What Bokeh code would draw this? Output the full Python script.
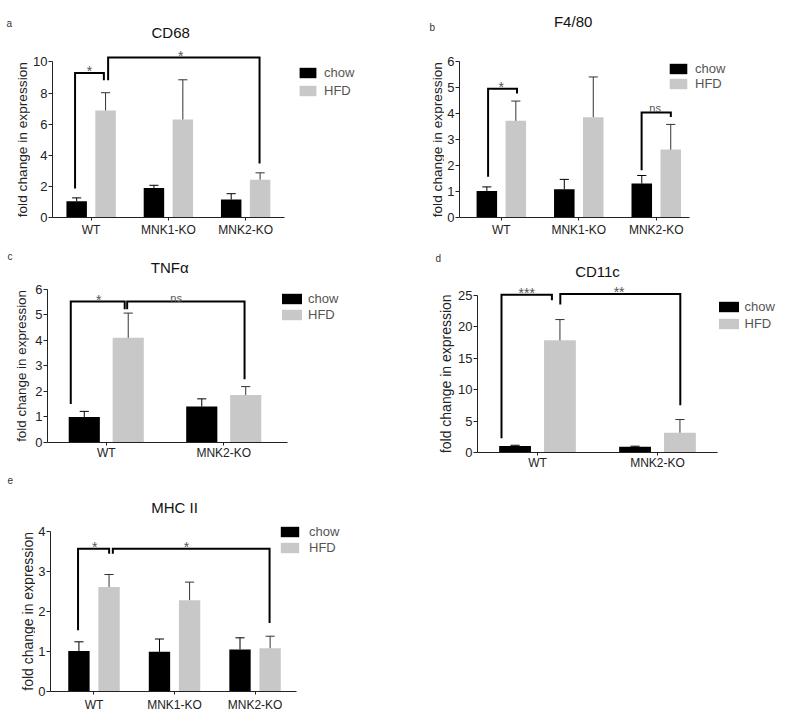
import math
from bokeh.plotting import figure
from bokeh.layouts import column, row
from bokeh.models import Range1d, FixedTicker, Legend, LegendItem, ColumnDataSource
from bokeh.embed import file_html
from bokeh.resources import INLINE
from bokeh.core.properties import value

FONT = "Liberation Sans"

# ---------------- data ----------------
series_names = ["chow", "HFD"]
y_title = "fold change in expression"

cd68_groups = ["WT", "MNK1-KO", "MNK2-KO"]
cd68_chow = [1.05, 1.90, 1.15]
cd68_chow_top = [1.26, 2.07, 1.53]
cd68_hfd = [6.88, 6.30, 2.43]
cd68_hfd_top = [8.02, 8.85, 2.87]
cd68_yticks = [0, 2, 4, 6, 8, 10]
# (x_left, y_left, x_right, y_right, y_top, label, label_x)
cd68_brackets = [(0.292, 1.86, 0.665, 8.82, 9.29, "*", 0.48),
                 (0.72, 8.82, 2.68, 3.47, 10.28, "*", 1.66)]

f480_groups = ["WT", "MNK1-KO", "MNK2-KO"]
f480_chow = [1.02, 1.09, 1.31]
f480_chow_top = [1.18, 1.47, 1.62]
f480_hfd = [3.73, 3.87, 2.62]
f480_hfd_top = [4.49, 5.42, 3.59]
f480_yticks = [0, 1, 2, 3, 4, 5, 6]
f480_brackets = [(0.329, 1.57, 0.702, 4.78, 4.97, "*", 0.50),
                 (2.311, 1.82, 2.688, 3.88, 4.05, "ns", 2.486)]

tnf_groups = ["WT", "MNK2-KO"]
tnf_chow = [1.00, 1.41]
tnf_chow_top = [1.22, 1.71]
tnf_hfd = [4.10, 1.86]
tnf_hfd_top = [5.07, 2.19]
tnf_yticks = [0, 1, 2, 3, 4, 5, 6]
tnf_brackets = [(0.198, 1.51, 0.657, 5.22, 5.52, "*", 0.437),
                (0.678, 5.22, 1.677, 2.48, 5.52, "ns", 1.095)]

cd11c_groups = ["WT", "MNK2-KO"]
cd11c_chow = [1.05, 0.90]
cd11c_chow_top = [1.15, 1.00]
cd11c_hfd = [17.8, 3.14]
cd11c_hfd_top = [21.1, 5.23]
cd11c_yticks = [0, 5, 10, 15, 20, 25]
cd11c_brackets = [(0.200, 2.25, 0.62, 24.15, 25.05, "***", 0.41),
                  (0.69, 23.5, 1.69, 7.49, 25.15, "**", 1.18)]

mhc_groups = ["WT", "MNK1-KO", "MNK2-KO"]
mhc_chow = [1.01, 0.99, 1.05]
mhc_chow_top = [1.24, 1.31, 1.34]
mhc_hfd = [2.61, 2.28, 1.08]
mhc_hfd_top = [2.92, 2.73, 1.38]
mhc_yticks = [0, 1, 2, 3, 4]
mhc_brackets = [(0.302, 1.53, 0.688, 3.44, 3.56, "*", 0.508),
                (0.734, 3.44, 2.68, 1.71, 3.56, "*", 1.647)]

CHOW_COLOR = "#000000"
HFD_COLOR = "#c8c8c8"
BAR_W = 0.265
OFFSET = 0.187
CAP_PX = 4.6


def panel(title, groups, chow, chow_top, hfd, hfd_top, yticks, brackets,
          width, height, left, bottom, x_start, px_per_cat, axis_len,
          y_px_per_unit, title_xy, legend_loc, legend_gw, legend_st,
          legend_sp, xlabel_standoff):
    frame_w = width - left
    frame_h = height - bottom
    x_end = x_start + frame_w / px_per_cat
    y_end = frame_h / y_px_per_unit
    p = figure(width=width, height=height, output_backend="svg", toolbar_location=None,
               x_range=Range1d(x_start, x_end), y_range=Range1d(0, y_end),
               min_border_left=left, min_border_right=0, min_border_top=0,
               min_border_bottom=bottom, tools="")
    p.outline_line_color = None
    p.xgrid.visible = False
    p.ygrid.visible = False
    p.background_fill_color = "white"

    centers = [i + 0.5 for i in range(len(groups))]
    xc = [c - OFFSET for c in centers]
    xh = [c + OFFSET for c in centers]
    cap = CAP_PX / px_per_cat

    r1 = p.vbar(x=xc, top=chow, width=BAR_W, fill_color=CHOW_COLOR, line_color=None)
    r2 = p.vbar(x=xh, top=hfd, width=BAR_W, fill_color=HFD_COLOR, line_color=None)

    for xs, base, top, col in ((xc, chow, chow_top, "#000000"), (xh, hfd, hfd_top, "#333333")):
        p.segment(x0=xs, y0=base, x1=xs, y1=top, line_color=col, line_width=1)
        p.segment(x0=[x - cap for x in xs], y0=top, x1=[x + cap for x in xs], y1=top,
                  line_color=col, line_width=1)

    # significance brackets
    bx, by = [], []
    for (xl, yl, xr, yr, yt, lab, lx) in brackets:
        bx.append([xl, xl, xr, xr])
        by.append([yl, yt, yt, yr])
    p.multi_line(xs=bx, ys=by, line_color="#000000", line_width=2, line_join="miter")
    src = ColumnDataSource(dict(
        x=[b[6] for b in brackets], y=[b[4] for b in brackets],
        text=[b[5] for b in brackets],
        size=["11px" if b[5] == "ns" else "14px" for b in brackets],
        yoff=[-4 if b[5] == "ns" else -2 for b in brackets]))
    p.text(x="x", y="y", text="text", source=src, text_font=value(FONT),
           text_font_size="size", y_offset="yoff", text_align="center",
           text_baseline="alphabetic", text_color="#555555")

    # title
    p.text(x=[title_xy[0]], y=[title_xy[1]], text=[title], text_font=value(FONT),
           text_font_size="15px", text_align="center", text_baseline="middle",
           text_color="#111111")

    # axes
    ya = p.yaxis[0]
    ya.ticker = FixedTicker(ticks=yticks)
    ya.bounds = (0, yticks[-1])
    ya.major_label_text_font = FONT
    ya.major_label_text_font_size = "13px"
    ya.major_label_text_color = "#222222"
    ya.major_label_standoff = 1
    ya.major_tick_out = 4
    ya.major_tick_in = 0
    ya.minor_tick_line_color = None
    ya.axis_line_color = "#222222"
    ya.major_tick_line_color = "#222222"

    xa = p.xaxis[0]
    xa.ticker = FixedTicker(ticks=centers)
    xa.major_label_overrides = {c: g for c, g in zip(centers, groups)}
    xa.bounds = (x_start, x_start + axis_len / px_per_cat)
    xa.major_label_text_font = FONT
    xa.major_label_text_font_size = "12px"
    xa.major_label_text_color = "#222222"
    xa.major_label_standoff = xlabel_standoff
    xa.major_tick_out = 3
    xa.major_tick_in = 0
    xa.minor_tick_line_color = None
    xa.axis_line_color = "#222222"
    xa.major_tick_line_color = "#222222"

    legend = Legend(items=[LegendItem(label=series_names[0], renderers=[r1]),
                           LegendItem(label=series_names[1], renderers=[r2])],
                    location=legend_loc, glyph_width=legend_gw, glyph_height=13,
                    label_height=13, label_standoff=legend_st, spacing=legend_sp,
                    padding=0, margin=0, border_line_color=None,
                    background_fill_alpha=0, label_text_font=FONT,
                    label_text_font_size="13px", label_text_color="#555555")
    p.add_layout(legend)
    return p


def side(main, yticks, width, letter, letter_x, letter_y, ytitle_x, ytitle_size):
    """Narrow strip left of a panel: panel letter and y-axis title,
    sharing the panel's vertical scale."""
    s = figure(width=width, height=main.height, output_backend="svg",
               toolbar_location=None, x_range=Range1d(0, width), y_range=main.y_range,
               min_border_left=0, min_border_right=0, min_border_top=0,
               min_border_bottom=main.min_border_bottom, tools="",
               x_axis_location=None, y_axis_location=None)
    s.outline_line_color = None
    s.grid.visible = False
    s.text(x=[letter_x], y=[letter_y], text=[letter], text_font=value(FONT),
           text_font_size="10px", text_align="left", text_baseline="alphabetic",
           text_color="#333333")
    s.text(x=[ytitle_x], y=[(yticks[0] + yticks[-1]) / 2], text=[y_title],
           angle=math.pi / 2, text_font=value(FONT), text_font_size=ytitle_size,
           text_align="center", text_baseline="middle", text_color="#222222")
    return s


fa = panel("CD68", cd68_groups, cd68_chow, cd68_chow_top, cd68_hfd, cd68_hfd_top,
           cd68_yticks, cd68_brackets, width=370, height=243, left=20, bottom=26,
           x_start=0.0, px_per_cat=77.7, axis_len=233, y_px_per_unit=15.56,
           title_xy=(1.53, 11.89), legend_loc=(245, 119), legend_gw=21,
           legend_st=6, legend_sp=3, xlabel_standoff=2)
sa = side(fa, cd68_yticks, 30, "a", 6, 12.47, 21.7, "13.7px")

fb = panel("F4/80", f480_groups, f480_chow, f480_chow_top, f480_hfd, f480_hfd_top,
           f480_yticks, f480_brackets, width=341, height=243, left=14, bottom=26,
           x_start=-0.04, px_per_cat=77.7, axis_len=230.3, y_px_per_unit=25.93,
           title_xy=(1.427, 7.56), legend_loc=(208, 126), legend_gw=22,
           legend_st=6, legend_sp=0, xlabel_standoff=2)
sb = side(fb, f480_yticks, 44, "b", 29, 7.34, 36.7, "13.7px")

fc = panel("TNFα", tnf_groups, tnf_chow, tnf_chow_top, tnf_hfd, tnf_hfd_top,
           tnf_yticks, tnf_brackets, width=368, height=219, left=15, bottom=18,
           x_start=0.0, px_per_cat=117.5, axis_len=240, y_px_per_unit=25.78,
           title_xy=(1.04, 6.87), legend_loc=(232, 120), legend_gw=25,
           legend_st=4, legend_sp=1, xlabel_standoff=0)
sc = side(fc, tnf_yticks, 32, "c", 7, 7.27, 20.7, "13.4px")

fd = panel("CD11c", cd11c_groups, cd11c_chow, cd11c_chow_top, cd11c_hfd, cd11c_hfd_top,
           cd11c_yticks, cd11c_brackets, width=330, height=229, left=22, bottom=18,
           x_start=0.0, px_per_cat=120, axis_len=239.7, y_px_per_unit=6.36,
           title_xy=(1.0, 28.66), legend_loc=(238.5, 121), legend_gw=25,
           legend_st=4, legend_sp=2, xlabel_standoff=0)
sd = side(fd, cd11c_yticks, 55, "d", 35, 30.8, 45, "14px")

fe = panel("MHC II", mhc_groups, mhc_chow, mhc_chow_top, mhc_hfd, mhc_hfd_top,
           mhc_yticks, mhc_brackets, width=365, height=242, left=13, bottom=22,
           x_start=-0.04, px_per_cat=81, axis_len=247, y_px_per_unit=40.25,
           title_xy=(1.50, 4.60), legend_loc=(228, 136), legend_gw=23,
           legend_st=8, legend_sp=1, xlabel_standoff=3)
se = side(fe, mhc_yticks, 35, "e", 7, 5.27, 27.3, "14px")

layout = column(row(sa, fa, sb, fb), row(sc, fc, sd, fd), row(se, fe))
open("out.html", "w").write(file_html(layout, INLINE))
